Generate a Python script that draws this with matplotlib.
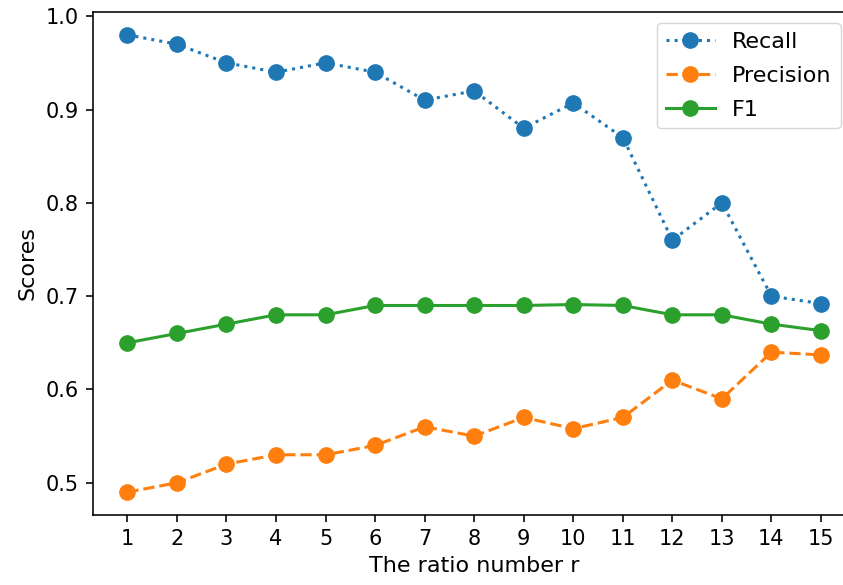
import matplotlib
matplotlib.use("Agg")
import matplotlib.pyplot as plt

# 数据
ratios    = list(range(1, 16))
recall    = [0.98, 0.97, 0.95, 0.94, 0.95, 0.94, 0.91, 0.92, 0.88, 0.907, 0.87, 0.76, 0.80, 0.70, 0.692]
precision = [0.49, 0.50, 0.52, 0.53, 0.53, 0.54, 0.56, 0.55, 0.57, 0.558, 0.57, 0.61, 0.59, 0.64, 0.637]
f1        = [0.65, 0.66, 0.67, 0.68, 0.68, 0.69, 0.69, 0.69, 0.69, 0.691, 0.69, 0.68, 0.68, 0.67, 0.663]

fig = plt.figure(figsize=(8.43, 5.85), dpi=100)
ax = fig.add_axes([0.110, 0.1197, 0.905, 0.8598])

ax.plot(ratios, recall,    ":",  marker="o", color="#1f77b4", lw=2.2, ms=11, label="Recall")
ax.plot(ratios, precision, "--", marker="o", color="#ff7f0e", lw=2.2, ms=11, label="Precision")
ax.plot(ratios, f1,        "-",  marker="o", color="#2ca02c", lw=2.2, ms=11, label="F1")

ax.set_xticks(ratios)
ax.set_xlim(0.3, 15.7)
ax.tick_params(labelsize=15, width=1.15, length=5, pad=5)
ax.set_xlabel("The ratio number r", fontsize=16, labelpad=5)
ax.set_ylabel("Scores", fontsize=16, labelpad=6)
ax.spines["right"].set_visible(False)
for s in ["left", "bottom", "top"]:
    ax.spines[s].set_linewidth(1.15)

ax.legend(loc="upper right", bbox_to_anchor=(0.995, 1.0), fontsize=16,
          labelspacing=0.62, handlelength=2.2)

fig.savefig("out.png", dpi=100)
